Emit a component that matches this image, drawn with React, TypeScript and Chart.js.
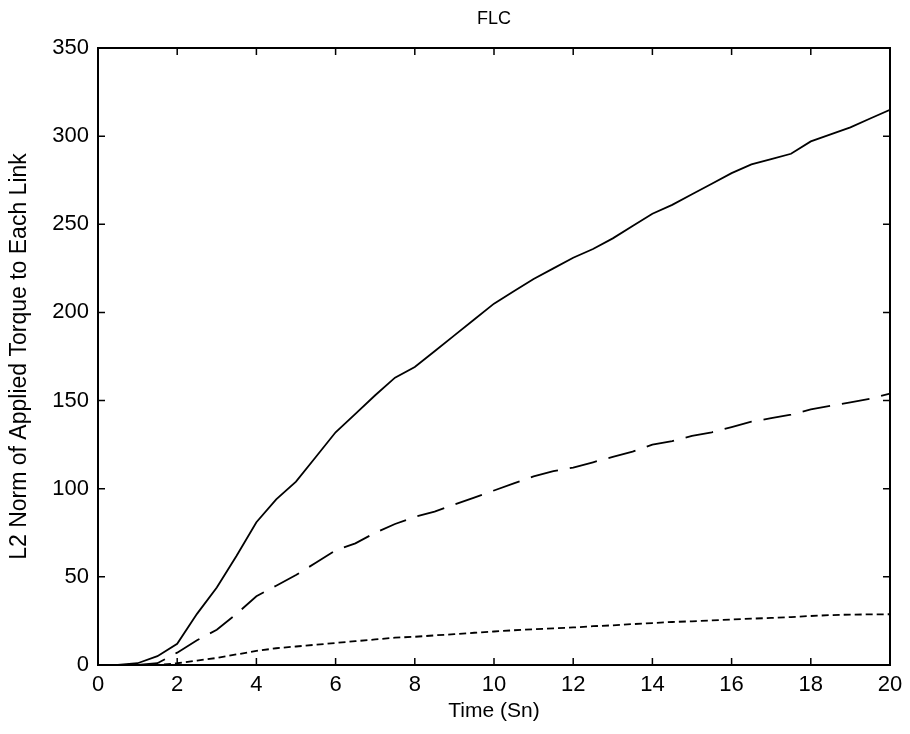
import React, { useEffect, useRef } from "react";
import { Chart, registerables } from "chart.js";

Chart.register(...registerables);

const chartTitle = "FLC";
const xAxisTitle = "Time (Sn)";
const yAxisTitle = "L2 Norm of Applied Torque to Each Link";

const timeValues = [
  0, 0.5, 1, 1.5, 2, 2.5, 3, 3.5, 4, 4.5, 5, 5.5, 6, 6.5, 7, 7.5, 8, 8.5, 9, 9.5,
  10, 10.5, 11, 11.5, 12, 12.5, 13, 13.5, 14, 14.5, 15, 15.5, 16, 16.5, 17, 17.5,
  18, 18.5, 19, 19.5, 20,
];

const solidSeries = [
  0, 0, 1, 5, 12, 29, 44, 62, 81, 94, 104, 118, 132, 142.5, 153, 163, 169, 178, 187, 196,
  205, 212, 219, 225, 231, 236, 242, 249, 256, 261, 267, 273, 279, 284, 287, 290,
  297, 301, 305, 310, 315,
];

const dashedSeries = [
  0, 0, 0, 1, 7, 14, 20, 29, 39, 45, 51, 58, 65, 69, 75, 80, 84, 87, 91, 95,
  99, 103, 107, 110, 112, 115, 118, 121, 125, 127, 130, 132, 135, 138, 140, 142,
  145, 147, 149, 151, 154,
];

const dottedSeries = [
  0, 0, 0, 0, 1, 2.5, 4, 6, 8, 9.5, 10.5, 11.5, 12.5, 13.5, 14.5, 15.5, 16, 16.8, 17.5, 18.3,
  19, 19.7, 20.3, 20.8, 21.3, 22, 22.5, 23.2, 23.8, 24.4, 24.8, 25.3, 25.8, 26.3, 26.7, 27.2,
  27.8, 28.3, 28.6, 28.7, 28.8,
];

const xTicks = [0, 2, 4, 6, 8, 10, 12, 14, 16, 18, 20];
const yTicks = [0, 50, 100, 150, 200, 250, 300, 350];

const FONT = "'Liberation Sans', Arial, sans-serif";

const toPoints = (ys: number[]) => timeValues.map((x, i) => ({ x, y: ys[i] }));

const boxAndTicks = {
  id: "boxAndTicks",
  afterDatasetsDraw(chart: any) {
    const { ctx, chartArea } = chart;
    const { left, right, top, bottom } = chartArea;
    const xs = chart.scales.x;
    const ys = chart.scales.y;
    const len = 7;
    ctx.save();
    ctx.strokeStyle = "#000";
    ctx.lineWidth = 2;
    ctx.strokeRect(left, top, right - left, bottom - top);
    ctx.lineWidth = 1.5;
    ctx.beginPath();
    xTicks.forEach((v) => {
      const px = xs.getPixelForValue(v);
      ctx.moveTo(px, bottom);
      ctx.lineTo(px, bottom - len);
      ctx.moveTo(px, top);
      ctx.lineTo(px, top + len);
    });
    yTicks.forEach((v) => {
      const py = ys.getPixelForValue(v);
      ctx.moveTo(left, py);
      ctx.lineTo(left + len, py);
      ctx.moveTo(right, py);
      ctx.lineTo(right - len, py);
    });
    ctx.stroke();
    // title centred over the plot area
    ctx.fillStyle = "#000";
    ctx.font = `18px ${FONT}`;
    ctx.textAlign = "center";
    ctx.textBaseline = "middle";
    ctx.fillText(chartTitle, (left + right) / 2, top - 29);
    ctx.restore();
  },
};

export default function App() {
  const ref = useRef<HTMLCanvasElement | null>(null);

  useEffect(() => {
    if (!ref.current) return;
    const chart = new Chart(ref.current, {
      type: "line",
      data: {
        datasets: [
          {
            label: "solid",
            data: toPoints(solidSeries),
            borderColor: "#000",
            borderWidth: 1.8,
            pointRadius: 0,
            tension: 0,
          },
          {
            label: "dashed",
            data: toPoints(dashedSeries),
            borderColor: "#000",
            borderWidth: 1.8,
            borderDash: [28, 12],
            pointRadius: 0,
            tension: 0,
          },
          {
            label: "dotted",
            data: toPoints(dottedSeries),
            borderColor: "#000",
            borderWidth: 1.8,
            borderDash: [7, 4],
            pointRadius: 0,
            tension: 0,
          },
        ],
      },
      options: {
        animation: false,
        responsive: false,
        maintainAspectRatio: false,
        layout: { padding: { left: 0, right: 20, top: 48, bottom: 0 } },
        plugins: {
          legend: { display: false },
          tooltip: { enabled: false },
          title: { display: false },
        },
        scales: {
          x: {
            type: "linear",
            min: 0,
            max: 20,
            afterBuildTicks: (scale: any) => {
              scale.ticks = xTicks.map((v) => ({ value: v }));
            },
            afterFit: (scale: any) => {
              scale.height = 69;
            },
            grid: { display: false, drawTicks: false },
            border: { display: false },
            ticks: {
              color: "#000",
              padding: 7,
              maxRotation: 0,
              font: { family: FONT, size: 22 },
            },
            title: {
              display: true,
              text: xAxisTitle,
              color: "#000",
              font: { family: FONT, size: 21 },
              padding: { top: 0, bottom: 10 },
            },
          },
          y: {
            type: "linear",
            min: 0,
            max: 350,
            afterBuildTicks: (scale: any) => {
              scale.ticks = yTicks.map((v) => ({ value: v }));
            },
            afterFit: (scale: any) => {
              scale.width = 98;
            },
            grid: { display: false, drawTicks: false },
            border: { display: false },
            ticks: {
              color: "#000",
              padding: 9,
              font: { family: FONT, size: 22 },
            },
            title: {
              display: true,
              text: yAxisTitle,
              color: "#000",
              font: { family: FONT, size: 23 },
              padding: { top: 6, bottom: 0 },
            },
          },
        },
      },
      plugins: [boxAndTicks],
    });
    return () => chart.destroy();
  }, []);

  return (
    <div style={{ position: "fixed", left: 0, top: 0, width: 910, height: 734, background: "#fff" }}>
      <canvas ref={ref} width={910} height={734} style={{ width: 910, height: 734 }} />
    </div>
  );
}
